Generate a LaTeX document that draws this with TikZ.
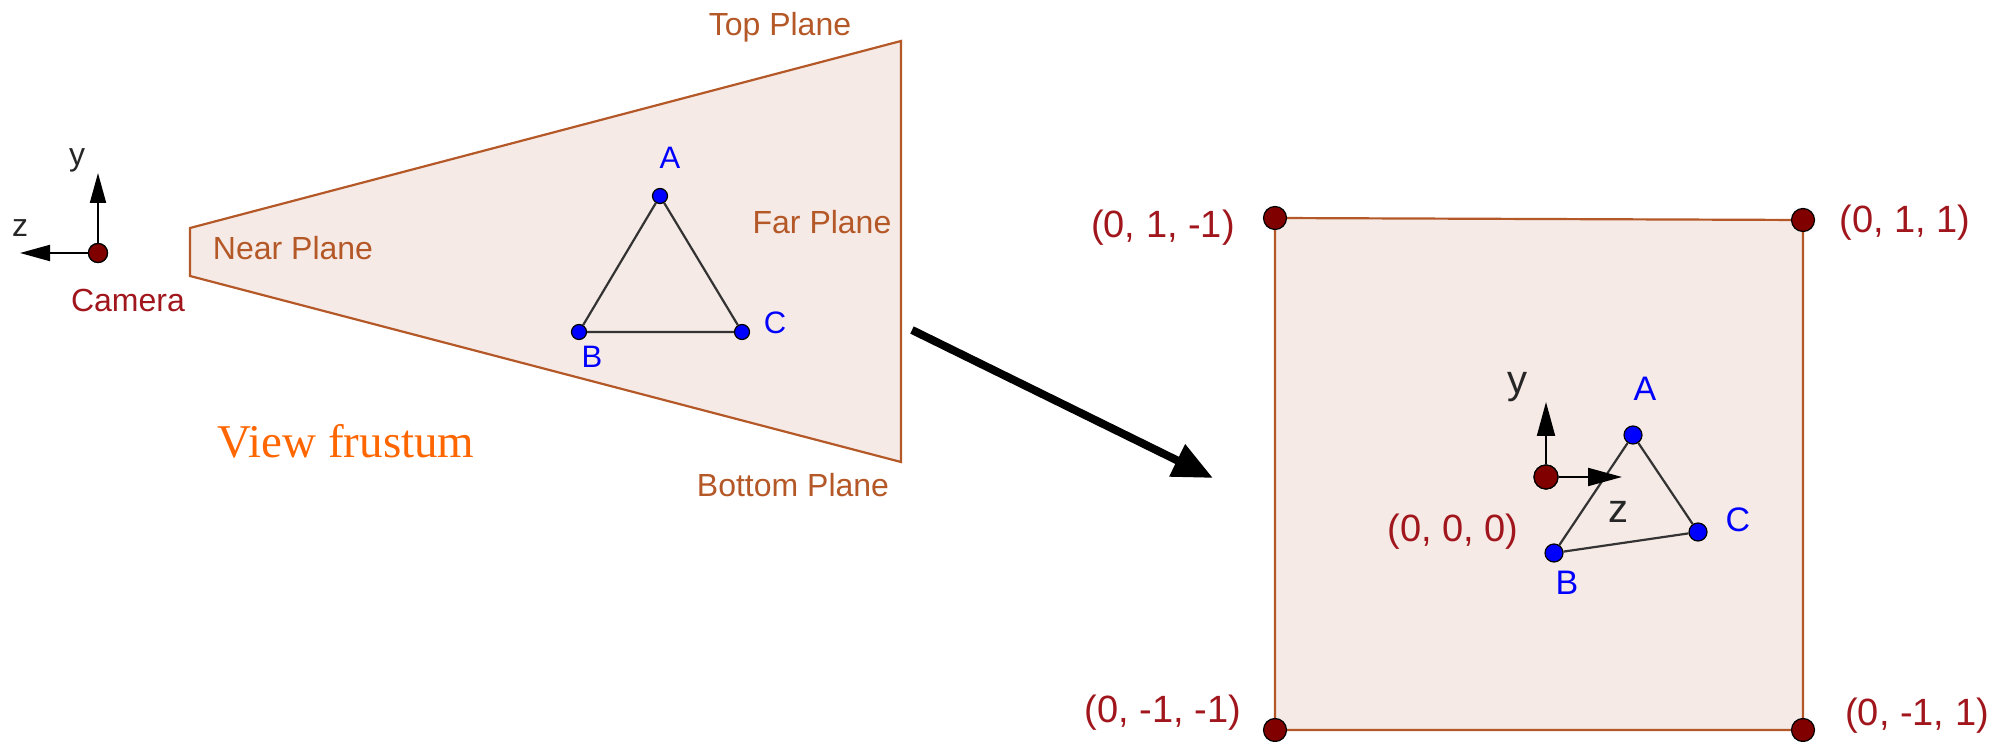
\documentclass[tikz,border=0pt]{standalone}
\usepackage{fontspec}
\setmainfont{Liberation Sans}
\newfontfamily\vfserif{Liberation Serif}
\usetikzlibrary{arrows.meta}
\definecolor{planeedge}{RGB}{181,88,40}
\definecolor{planefill}{RGB}{245,234,230}
\definecolor{ptred}{RGB}{128,0,0}
\definecolor{lblred}{RGB}{160,22,28}
\definecolor{ptblue}{RGB}{0,0,255}
\definecolor{vforange}{RGB}{255,102,0}
\tikzset{
  plane/.style={draw=planeedge, fill=planefill, line width=1.1pt, line join=miter},
  planelbl/.style={text=planeedge, font=\fontsize{16}{19}\selectfont, inner sep=0pt},
  redpt/.style={circle, fill=ptred, draw=black, line width=0.6pt, inner sep=0pt, minimum size=#1},
  bluept/.style={circle, fill=ptblue, draw=black, line width=0.6pt, inner sep=0pt, minimum size=#1},
  coordlbl/.style={text=lblred, font=\fontsize{19}{23}\selectfont, inner sep=0pt},
  camlbl/.style={text=lblred, font=\fontsize{16}{19}\selectfont, inner sep=0pt},
  bluelbl/.style={text=ptblue, font=\fontsize{#1}{#1}\selectfont, inner sep=0pt},
  axlbl/.style={text=black!85, font=\fontsize{#1}{#1}\selectfont, inner sep=0pt},
  axisarrow/.style={line width=1pt, -{Triangle[length=#1,width=8pt]}},
  triedge/.style={draw=black!80, line width=1.1pt},
}
\begin{document}
\begin{tikzpicture}[x=0.5pt, y=-0.5pt]
\useasboundingbox (0,0) rectangle (2003,742);
% ---------- frustum ----------
\coordinate (f1) at (190,228);
\coordinate (f2) at (901,41);
\coordinate (f3) at (901,462);
\coordinate (f4) at (190,276);
\draw[plane] (f1) -- (f2) -- (f3) -- (f4) -- cycle;
% left triangle
\node[bluept=7.5pt] (lA) at (660,196) {};
\node[bluept=7.5pt] (lB) at (579,332) {};
\node[bluept=7.5pt] (lC) at (742,332) {};
\draw[triedge] (lA) -- (lB) -- (lC) -- (lA);
\node[bluelbl=15.5] (lAl) at (670,158) {A};
\node[bluelbl=15.5] (lBl) at (592,357) {B};
\node[bluelbl=15.5] (lCl) at (775,323) {C};
% frustum labels
\node[planelbl] (top) at (780,27) {Top Plane};
\node[planelbl] (far) at (822,222) {Far Plane};
\node[planelbl] (near) at (293,248) {Near Plane};
\node[planelbl] (bot) at (793,485) {Bottom Plane};
\node[text=vforange, font=\vfserif\fontsize{23.5}{26}\selectfont, inner sep=0pt] (vf) at (346,441) {View frustum};
% camera
\coordinate (camy) at (98,173);
\coordinate (camz) at (20,253);
\node[redpt=9.5pt] (cam) at (98,253) {};
\draw[axisarrow=15pt] (cam.north) -- (camy);
\draw[axisarrow=15pt] (cam.west) -- (camz);
\node[redpt=9.5pt] at (cam) {};
\node[axlbl=16] (camyl) at (77,160) {y};
\node[axlbl=16] (camzl) at (20,228) {z};
\node[camlbl] (caml) at (128,300) {Camera};
% ---------- big arrow ----------
\coordinate (arrS) at (912,330);
\coordinate (arrE) at (1213,478);
\draw[line width=4pt, -{Triangle[length=20pt,width=17pt]}] (arrS) -- (arrE);
% ---------- square ----------
\coordinate (s1) at (1275,218);
\coordinate (s2) at (1803,220);
\coordinate (s3) at (1803,730);
\coordinate (s4) at (1275,730);
\draw[plane] (s1) -- (s2) -- (s3) -- (s4) -- cycle;
% right triangle
\node[bluept=9pt] (rA) at (1633,435) {};
\node[bluept=9pt] (rB) at (1554,553) {};
\node[bluept=9pt] (rC) at (1698,532) {};
\draw[triedge] (rA) -- (rB) -- (rC) -- (rA);
% origin axes
\coordinate (oy) at (1546,402);
\coordinate (oz) at (1622,477);
\node[redpt=12pt] (org) at (1546,477) {};
\draw[line width=1pt, -{Triangle[length=17pt,width=9pt]}] (org.north) -- (oy);
\draw[line width=1pt, -{Triangle[length=17pt,width=9pt]}] (org.east) -- (oz);
\node[redpt=12pt] at (org) {};
\node[axlbl=20] (oyl) at (1517,387) {y};
\node[axlbl=20] (ozl) at (1618,512) {z};
\node[bluelbl=17] (rAl) at (1645,389) {A};
\node[bluelbl=17] (rBl) at (1567,583) {B};
\node[bluelbl=17] (rCl) at (1738,520) {C};
\node[coordlbl] (ol) at (1453,532) {(0, 0, 0)};
% corner points
\node[redpt=11.5pt] (p1) at (s1) {};
\node[redpt=11.5pt] (p2) at (s2) {};
\node[redpt=11.5pt] (p3) at (s3) {};
\node[redpt=11.5pt] (p4) at (s4) {};
\node[coordlbl] (p1l) at (1163,228) {(0, 1, -1)};
\node[coordlbl] (p2l) at (1905,223) {(0, 1, 1)};
\node[coordlbl] (p3l) at (1917,716) {(0, -1, 1)};
\node[coordlbl] (p4l) at (1163,713) {(0, -1, -1)};
\end{tikzpicture}
\end{document}
